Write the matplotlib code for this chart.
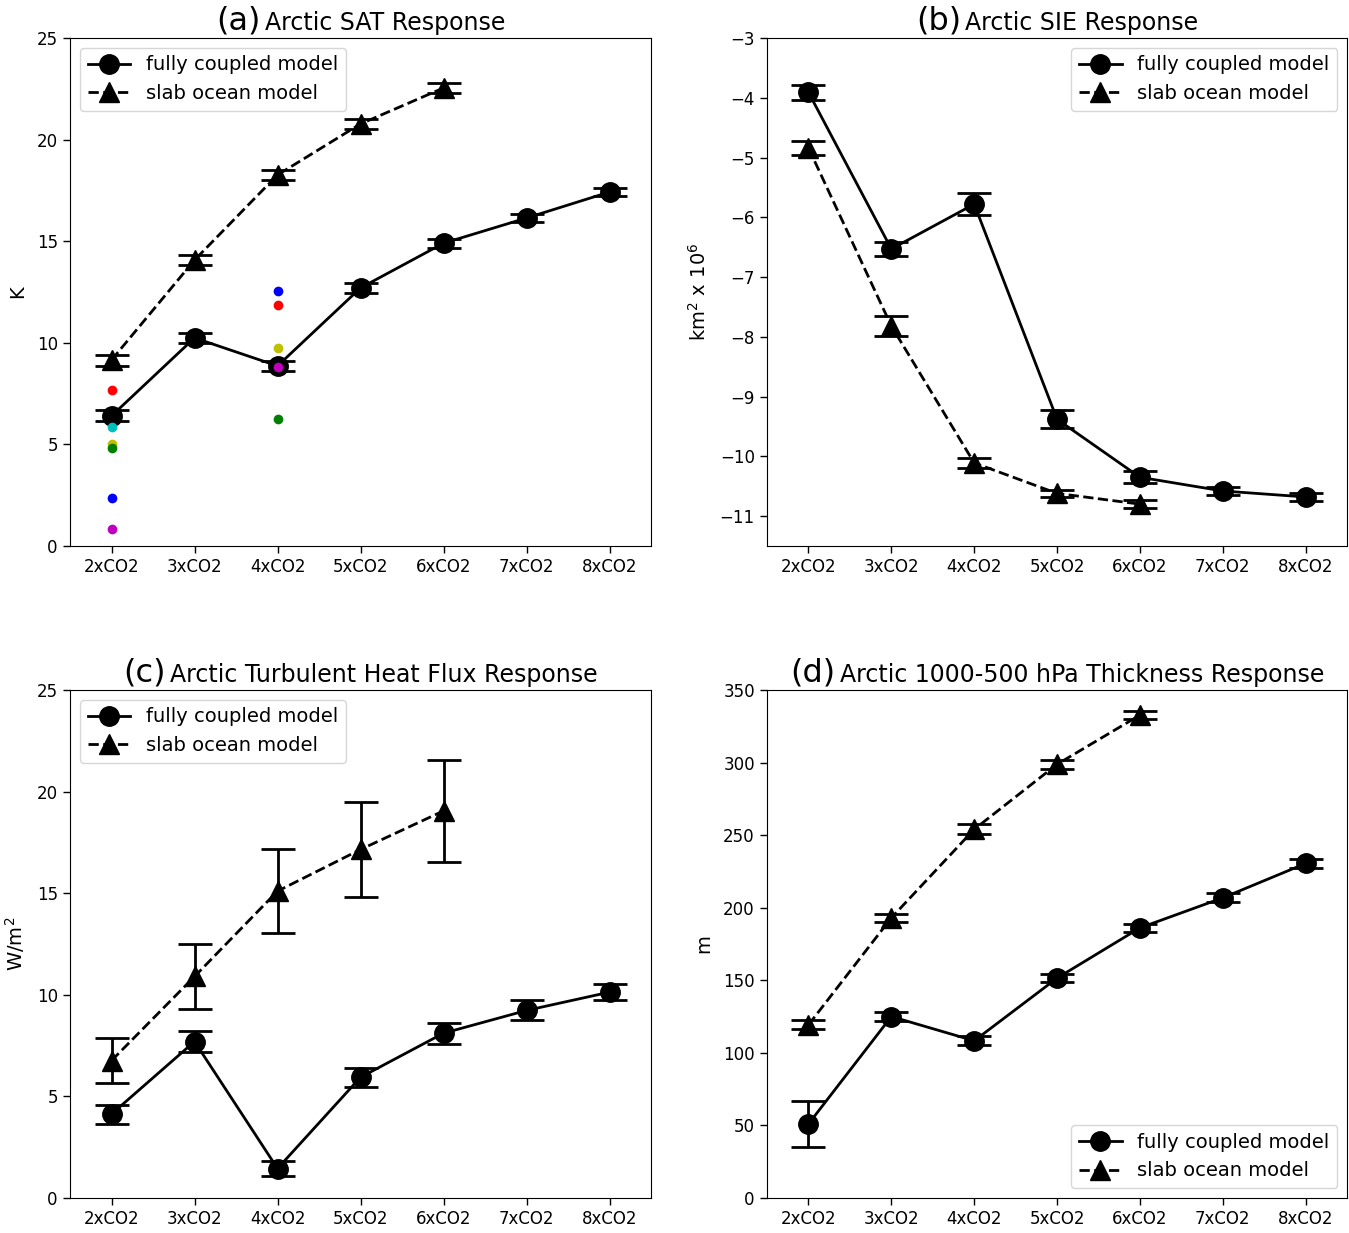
import matplotlib
matplotlib.use("Agg")
import matplotlib.pyplot as plt
from matplotlib.offsetbox import TextArea, HPacker, AnchoredOffsetbox

plt.rcParams['font.family'] = ['DejaVu Sans']

categories = ["2xCO2", "3xCO2", "4xCO2", "5xCO2", "6xCO2", "7xCO2", "8xCO2"]

# (a) Arctic SAT response (K)
sat_fc = [6.4, 10.24, 8.86, 12.7, 14.9, 16.14, 17.42]
sat_fc_err = [0.27, 0.25, 0.25, 0.25, 0.22, 0.2, 0.2]
sat_slab = [9.15, 14.07, 18.26, 20.77, 22.54]
sat_slab_err = [0.27, 0.25, 0.25, 0.25, 0.25]
# individual model dots
dots_2x = [7.68, 5.86, 5.02, 4.82, 2.36, 0.84]
dots_2x_colors = ['r', 'c', 'y', 'g', 'b', 'm']
dots_4x = [12.55, 11.86, 9.74, 8.81, 6.25]
dots_4x_colors = ['b', 'r', 'y', 'm', 'g']

# (b) Arctic SIE response (km^2 x 10^6)
sie_fc = [-3.91, -6.53, -5.78, -9.38, -10.35, -10.58, -10.68]
sie_fc_err = [0.13, 0.12, 0.18, 0.15, 0.1, 0.07, 0.07]
sie_slab = [-4.84, -7.82, -10.11, -10.62, -10.80]
sie_slab_err = [0.12, 0.17, 0.08, 0.06, 0.07]

# (c) Arctic turbulent heat flux response (W/m^2)
thf_fc = [4.13, 7.70, 1.45, 5.94, 8.11, 9.23, 10.13]
thf_fc_err = [0.47, 0.5, 0.39, 0.46, 0.52, 0.49, 0.38]
thf_slab = [6.76, 10.9, 15.1, 17.15, 19.05]
thf_slab_err = [1.1, 1.6, 2.07, 2.33, 2.5]

# (d) Arctic 1000-500 hPa thickness response (m)
thk_fc = [51.0, 125.0, 108.3, 151.5, 186.1, 206.8, 230.5]
thk_fc_err = [16.0, 3.0, 3.0, 3.0, 3.0, 3.0, 3.0]
thk_slab = [119.3, 193.0, 254.0, 298.8, 332.7]
thk_slab_err = [3.0, 3.0, 3.5, 3.0, 3.0]

fig = plt.figure(figsize=(13.49, 12.33), dpi=100)
positions = [
    [0.0519, 0.5572, 0.4307, 0.4120],
    [0.5686, 0.5572, 0.4300, 0.4120],
    [0.0519, 0.0284, 0.4307, 0.4120],
    [0.5686, 0.0284, 0.4300, 0.4120],
]

panels = [
    ("(a)", "Arctic SAT Response", sat_fc, sat_fc_err, sat_slab, sat_slab_err,
     "K", (0, 25), [0, 5, 10, 15, 20, 25], "upper left"),
    ("(b)", "Arctic SIE Response", sie_fc, sie_fc_err, sie_slab, sie_slab_err,
     "km$^2$ x 10$^6$", (-11.5, -3), [-11, -10, -9, -8, -7, -6, -5, -4, -3], "upper right"),
    ("(c)", "Arctic Turbulent Heat Flux Response", thf_fc, thf_fc_err, thf_slab, thf_slab_err,
     "W/m$^2$", (0, 25), [0, 5, 10, 15, 20, 25], "upper left"),
    ("(d)", "Arctic 1000-500 hPa Thickness Response", thk_fc, thk_fc_err, thk_slab, thk_slab_err,
     "m", (0, 350), [0, 50, 100, 150, 200, 250, 300, 350], "lower right"),
]

x_fc = list(range(len(categories)))
x_slab = list(range(len(sat_slab)))

for i, (lab, title, fc, fce, sl, sle, ylab, ylim, yticks, legloc) in enumerate(panels):
    ax = fig.add_axes(positions[i])
    ax.plot(x_fc, fc, '-', color='k', marker='o', markersize=14, linewidth=2,
            label='fully coupled model')
    ax.plot(x_slab, sl, '--', color='k', marker='^', markersize=14, linewidth=2,
            label='slab ocean model')
    ax.errorbar(x_fc, fc, yerr=fce, fmt='none', ecolor='k', elinewidth=2,
                capsize=12.5, capthick=2)
    ax.errorbar(x_slab, sl, yerr=sle, fmt='none', ecolor='k', elinewidth=2,
                capsize=12.5, capthick=2)
    if i == 0:
        for v, c in zip(dots_2x, dots_2x_colors):
            ax.plot([0], [v], 'o', color=c, markersize=7, markeredgewidth=0, zorder=5)
        for v, c in zip(dots_4x, dots_4x_colors):
            ax.plot([2], [v], 'o', color=c, markersize=7, markeredgewidth=0, zorder=5)
    ax.set_xlim(-0.5, 6.5)
    ax.set_ylim(*ylim)
    ax.set_yticks(yticks)
    ax.set_xticks(x_fc)
    ax.set_xticklabels(categories)
    ax.tick_params(labelsize=12, length=4.8, width=1, pad=4)
    ax.set_ylabel(ylab, fontsize=14, labelpad=7)
    ax.legend(loc=legloc, fontsize=14, handlelength=2.2)

    ta = TextArea(lab, textprops=dict(fontsize=23))
    tb = TextArea(title, textprops=dict(fontsize=17))
    box = HPacker(children=[ta, tb], align="baseline", pad=0, sep=3)
    anch = AnchoredOffsetbox(loc='lower center', child=box, pad=0, frameon=False,
                             bbox_to_anchor=(0.5, 1.0), bbox_transform=ax.transAxes,
                             borderpad=0.1)
    ax.add_artist(anch)

fig.savefig("out.png", dpi=100)
